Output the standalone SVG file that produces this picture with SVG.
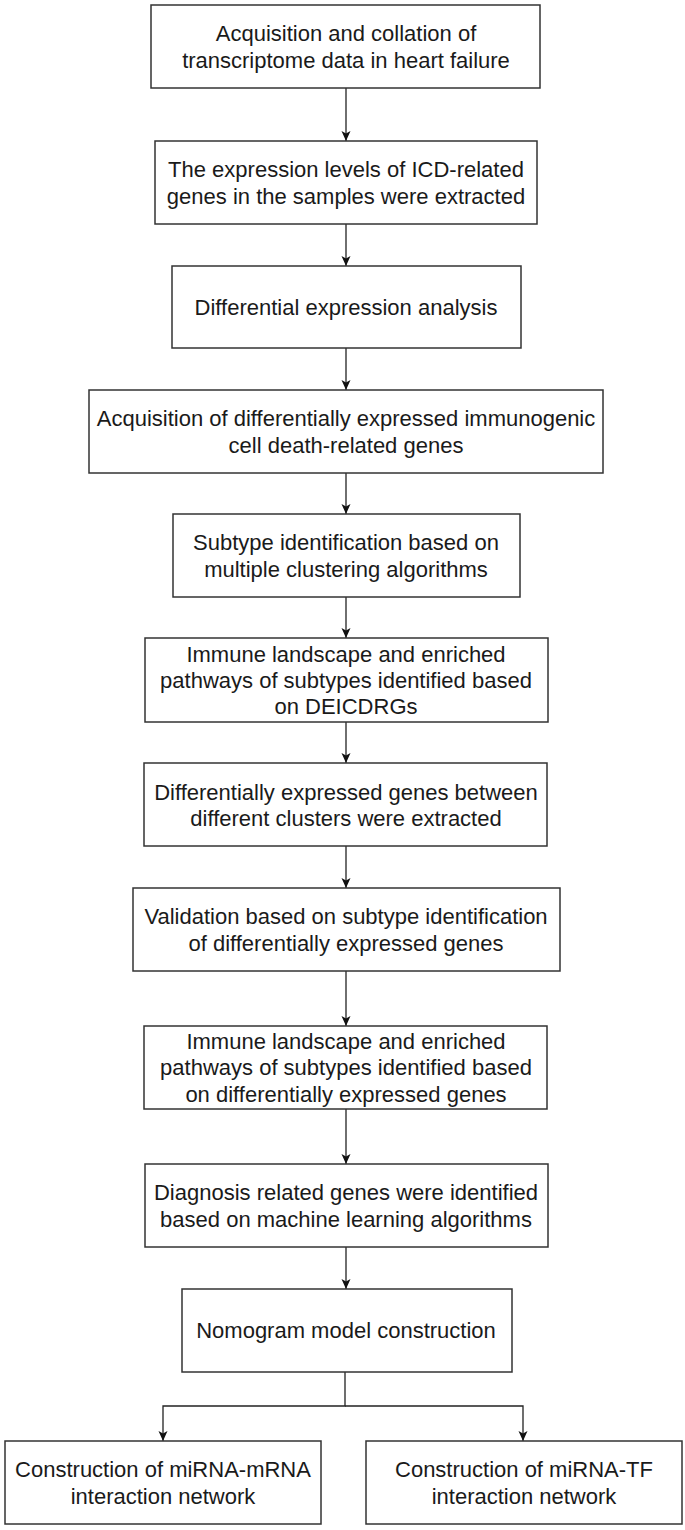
<svg xmlns="http://www.w3.org/2000/svg" width="685" height="1530" viewBox="0 0 685 1530">
<style>
.box{fill:#fff;stroke:#333;stroke-width:1.5}
.t{font-family:"Liberation Sans",Arial,sans-serif;font-size:22px;fill:#1a1a1a;text-anchor:middle}
.c{fill:none;stroke:#222;stroke-width:1.3}
</style>
<defs>
<marker id="ah" markerUnits="userSpaceOnUse" markerWidth="10" markerHeight="10" refX="10" refY="5" orient="auto" viewBox="0 0 10 10">
<path d="M0,0.5 L10,5 L0,9.5 L2.5,5 z" fill="#111"/>
</marker>
</defs>
<rect width="685" height="1530" fill="#fff"/>
<g id="connectors">
<line class="c" x1="346" y1="88" x2="346" y2="141" marker-end="url(#ah)"/>
<line class="c" x1="346" y1="224" x2="346" y2="266" marker-end="url(#ah)"/>
<line class="c" x1="346" y1="348" x2="346" y2="390" marker-end="url(#ah)"/>
<line class="c" x1="346" y1="473" x2="346" y2="514" marker-end="url(#ah)"/>
<line class="c" x1="346" y1="597" x2="346" y2="638" marker-end="url(#ah)"/>
<line class="c" x1="346" y1="722" x2="346" y2="763" marker-end="url(#ah)"/>
<line class="c" x1="346" y1="846" x2="346" y2="888" marker-end="url(#ah)"/>
<line class="c" x1="346" y1="971" x2="346" y2="1026" marker-end="url(#ah)"/>
<line class="c" x1="346" y1="1109" x2="346" y2="1164" marker-end="url(#ah)"/>
<line class="c" x1="346" y1="1247" x2="346" y2="1289" marker-end="url(#ah)"/>
<polyline class="c" points="345,1372 345,1406 163,1406 163,1441" marker-end="url(#ah)"/>
<polyline class="c" points="345,1406 523,1406 523,1441" marker-end="url(#ah)"/>
</g>
<g id="n1"><rect class="box" x="151" y="5" width="389" height="83"/>
<text class="t" x="346" y="41">Acquisition and collation of</text>
<text class="t" x="346" y="68">transcriptome data in heart failure</text></g>
<g id="n2"><rect class="box" x="155" y="141" width="382" height="83"/>
<text class="t" x="346" y="177">The expression levels of ICD-related</text>
<text class="t" x="346" y="204">genes in the samples were extracted</text></g>
<g id="n3"><rect class="box" x="172" y="266" width="349" height="82"/>
<text class="t" x="346" y="315">Differential expression analysis</text></g>
<g id="n4"><rect class="box" x="89" y="390" width="514" height="83"/>
<text class="t" x="346" y="426">Acquisition of differentially expressed immunogenic</text>
<text class="t" x="346" y="453">cell death-related genes</text></g>
<g id="n5"><rect class="box" x="173" y="514" width="347" height="83"/>
<text class="t" x="346" y="550">Subtype identification based on</text>
<text class="t" x="346" y="577">multiple clustering algorithms</text></g>
<g id="n6"><rect class="box" x="145" y="638" width="403" height="84"/>
<text class="t" x="346" y="662">Immune landscape and enriched</text>
<text class="t" x="346" y="688">pathways of subtypes identified based</text>
<text class="t" x="346" y="714">on DEICDRGs</text></g>
<g id="n7"><rect class="box" x="144" y="763" width="403" height="83"/>
<text class="t" x="346" y="800">Differentially expressed genes between</text>
<text class="t" x="346" y="826">different clusters were extracted</text></g>
<g id="n8"><rect class="box" x="133" y="888" width="427" height="83"/>
<text class="t" x="346" y="924">Validation based on subtype identification</text>
<text class="t" x="346" y="951">of differentially expressed genes</text></g>
<g id="n9"><rect class="box" x="144" y="1026" width="403" height="83"/>
<text class="t" x="346" y="1049">Immune landscape and enriched</text>
<text class="t" x="346" y="1075">pathways of subtypes identified based</text>
<text class="t" x="346" y="1102">on differentially expressed genes</text></g>
<g id="n10"><rect class="box" x="145" y="1164" width="403" height="83"/>
<text class="t" x="346" y="1200">Diagnosis related genes were identified</text>
<text class="t" x="346" y="1227">based on machine learning algorithms</text></g>
<g id="n11"><rect class="box" x="182" y="1289" width="330" height="83"/>
<text class="t" x="346" y="1338">Nomogram model construction</text></g>
<g id="n12"><rect class="box" x="5" y="1441" width="316" height="83"/>
<text class="t" x="163" y="1477">Construction of miRNA-mRNA</text>
<text class="t" x="163" y="1504">interaction network</text></g>
<g id="n13"><rect class="box" x="366" y="1441" width="316" height="83"/>
<text class="t" x="524" y="1477">Construction of miRNA-TF</text>
<text class="t" x="524" y="1504">interaction network</text></g>
</svg>
